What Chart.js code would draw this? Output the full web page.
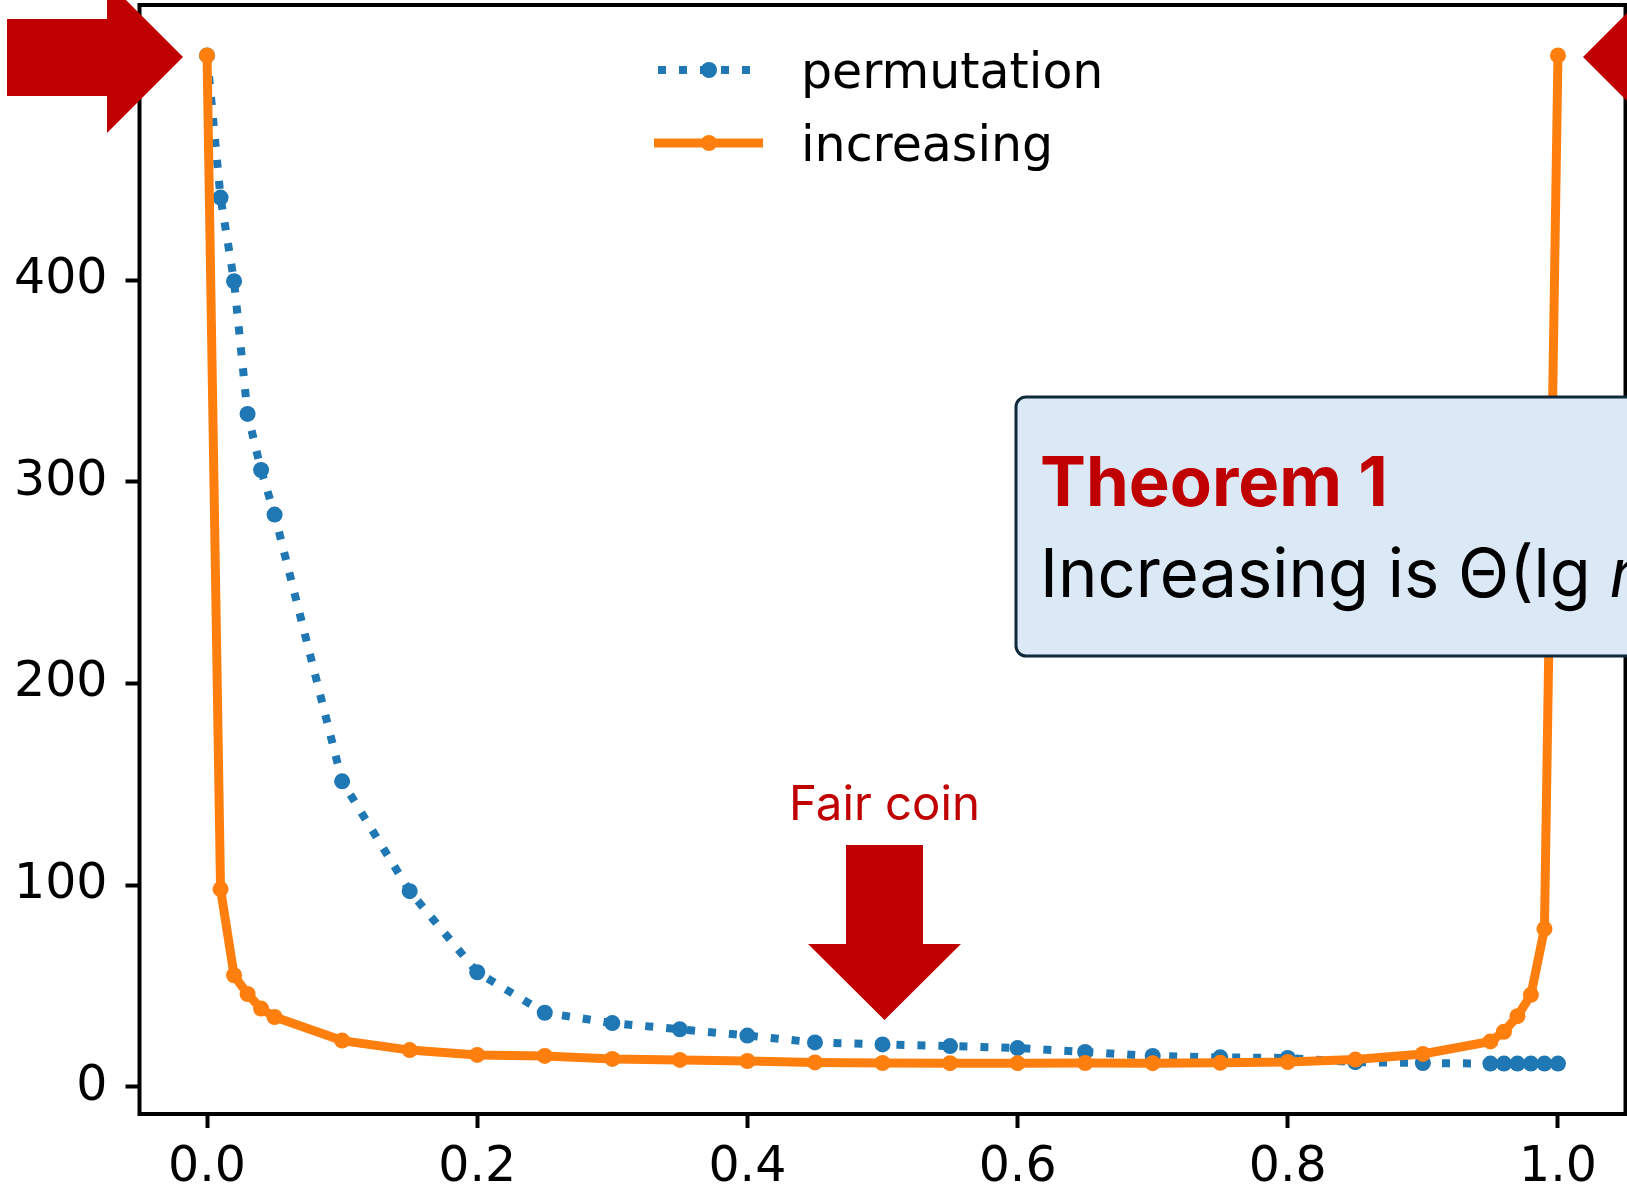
<!DOCTYPE html>
<html>
<head>
<meta charset="utf-8">
<script src="https://cdn.jsdelivr.net/npm/chart.js@4.4.1/dist/chart.umd.min.js"></script>
<style>
  html, body { margin: 0; padding: 0; background: #fff; }
  #wrap { width: 1627px; height: 1189px; overflow: hidden; }
</style>
</head>
<body>
<div id="wrap"><canvas id="grafico" width="1627" height="1189"></canvas></div>
<script>
// datos
const probabilidades = [0, 0.01, 0.02, 0.03, 0.04, 0.05, 0.1, 0.15, 0.2, 0.25, 0.3, 0.35, 0.4, 0.45, 0.5,
  0.55, 0.6, 0.65, 0.7, 0.75, 0.8, 0.85, 0.9, 0.95, 0.96, 0.97, 0.98, 0.99, 1.0];
const permutation = [511.5, 441, 399.5, 333.7, 305.9, 283.8, 151.5, 97, 56.8, 36.7, 31.6, 28.5, 25.4, 22, 21,
  20.2, 19.2, 17.3, 15.3, 14.6, 14.3, 12.2, 11.8, 11.5, 11.5, 11.5, 11.5, 11.5, 11.5];
const increasing = [511.5, 98, 55.3, 46, 38.8, 34.6, 22.9, 18.2, 15.8, 15.3, 13.8, 13.3, 12.8, 12.1, 11.8,
  11.7, 11.7, 11.8, 11.7, 11.9, 12.3, 13.5, 16.3, 22.5, 27.3, 35, 45.6, 78.3, 511.5];
const nombresSeries = ['permutation', 'increasing'];
const ticksX = [0, 0.2, 0.4, 0.6, 0.8, 1.0];
const ticksY = [0, 100, 200, 300, 400, 500];

const AZUL = '#1f77b4';
const NARANJA = '#ff7f0e';
const ROJO = '#c00000';
const fuenteEjes = '"DejaVu Sans", sans-serif';
const fuenteNotas = 'Inter, Lato, sans-serif';

function puntos(valores) {
  return probabilidades.map((x, i) => ({ x: x, y: valores[i] }));
}

// busca el tamaño de letra para que el texto ocupe el ancho pedido
function tamPorAncho(ctx, estilo, texto, ancho) {
  ctx.font = estilo + ' 100px ' + fuenteNotas;
  return 100 * ancho / ctx.measureText(texto).width;
}

// marco completo del eje (estilo matplotlib)
const marco = {
  id: 'marco',
  afterDatasetsDraw(chart) {
    const { ctx, chartArea: a } = chart;
    ctx.save();
    ctx.strokeStyle = '#000';
    ctx.lineWidth = 4;
    ctx.strokeRect(a.left, a.top, a.right - a.left, a.bottom - a.top);
    ctx.restore();
  }
};

// leyenda dibujada a mano: linea + marcador
const leyenda = {
  id: 'leyenda',
  afterDatasetsDraw(chart) {
    const ctx = chart.ctx;
    const filas = [
      { y: 70, x0: 658, x1: 757, color: AZUL, ancho: 8, dash: [8, 13], base: 88 },
      { y: 143, x0: 654, x1: 763, color: NARANJA, ancho: 9, dash: [], base: 161 }
    ];
    ctx.save();
    filas.forEach((f, i) => {
      ctx.strokeStyle = f.color;
      ctx.lineWidth = f.ancho;
      ctx.lineCap = 'butt';
      ctx.setLineDash(f.dash);
      ctx.beginPath();
      ctx.moveTo(f.x0, f.y);
      ctx.lineTo(f.x1, f.y);
      ctx.stroke();
      ctx.setLineDash([]);
      ctx.fillStyle = f.color;
      ctx.beginPath();
      ctx.arc(709, f.y, 8, 0, Math.PI * 2);
      ctx.fill();
      ctx.fillStyle = '#000';
      ctx.font = '49px ' + fuenteEjes;
      ctx.textAlign = 'left';
      ctx.textBaseline = 'alphabetic';
      ctx.fillText(nombresSeries[i], 801, f.base);
    });
    ctx.restore();
  }
};

// flechas rojas, recuadro del teorema y nota "Fair coin"
const notas = {
  id: 'notas',
  afterDraw(chart) {
    const ctx = chart.ctx;
    ctx.save();
    ctx.fillStyle = ROJO;

    // flecha izquierda
    ctx.beginPath();
    ctx.moveTo(7, 19); ctx.lineTo(107, 19); ctx.lineTo(107, -19); ctx.lineTo(183, 57);
    ctx.lineTo(107, 133); ctx.lineTo(107, 96); ctx.lineTo(7, 96);
    ctx.closePath(); ctx.fill();

    // flecha derecha (cortada por el borde)
    ctx.beginPath();
    ctx.moveTo(1583, 57); ctx.lineTo(1659, -19); ctx.lineTo(1659, 19); ctx.lineTo(1760, 19);
    ctx.lineTo(1760, 96); ctx.lineTo(1659, 96); ctx.lineTo(1659, 133);
    ctx.closePath(); ctx.fill();

    // flecha "Fair coin"
    ctx.beginPath();
    ctx.moveTo(846, 845); ctx.lineTo(923, 845); ctx.lineTo(923, 944); ctx.lineTo(961, 944);
    ctx.lineTo(884.5, 1020); ctx.lineTo(808, 944); ctx.lineTo(846, 944);
    ctx.closePath(); ctx.fill();

    ctx.textBaseline = 'alphabetic';
    const tFair = tamPorAncho(ctx, '', 'Fair coin', 191);
    ctx.font = tFair + 'px ' + fuenteNotas;
    ctx.textAlign = 'center';
    ctx.fillText('Fair coin', 884.5, 820);

    // recuadro del teorema
    ctx.beginPath();
    ctx.roundRect(1016, 397, 760, 259, 10);
    ctx.fillStyle = '#dbe8f6';
    ctx.fill();
    ctx.lineWidth = 3;
    ctx.strokeStyle = '#10293a';
    ctx.stroke();

    ctx.textAlign = 'left';
    ctx.fillStyle = ROJO;
    const tTit = tamPorAncho(ctx, 'bold', 'Theorem 1', 348);
    ctx.font = 'bold ' + tTit + 'px ' + fuenteNotas;
    ctx.fillText('Theorem 1', 1040, 506);

    ctx.fillStyle = '#000';
    const texto = 'Increasing is \u0398(lg ';
    const tTxt = tamPorAncho(ctx, '', 'Increasing is \u0398(lg', 551);
    ctx.font = tTxt + 'px ' + fuenteNotas;
    ctx.fillText(texto, 1040, 597);
    const w = ctx.measureText(texto).width;
    ctx.font = 'italic ' + tTxt + 'px ' + fuenteNotas;
    ctx.fillText('n', 1040 + w, 597);
    const wn = ctx.measureText('n').width;
    ctx.font = tTxt + 'px ' + fuenteNotas;
    ctx.fillText(')', 1040 + w + wn, 597);
    ctx.restore();
  }
};

const ctx = document.getElementById('grafico').getContext('2d');
window.grafico = new Chart(ctx, {
  type: 'line',
  data: {
    datasets: [{
      label: nombresSeries[0],
      data: puntos(permutation),
      borderColor: AZUL,
      backgroundColor: AZUL,
      borderWidth: 8,
      borderDash: [8, 13],
      borderCapStyle: 'butt',
      pointRadius: 8,
      pointBorderWidth: 0,
      pointBackgroundColor: AZUL,
      tension: 0,
      order: 2
    }, {
      label: nombresSeries[1],
      data: puntos(increasing),
      borderColor: NARANJA,
      backgroundColor: NARANJA,
      borderWidth: 9,
      pointRadius: 8,
      pointBorderWidth: 0,
      pointBackgroundColor: NARANJA,
      tension: 0,
      order: 1
    }]
  },
  options: {
    responsive: false,
    devicePixelRatio: 1,
    animation: false,
    layout: { autoPadding: false, padding: { top: 5, right: 1.5, left: 0, bottom: 0 } },
    plugins: {
      legend: { display: false },
      tooltip: { enabled: false }
    },
    scales: {
      x: {
        type: 'linear',
        min: -0.05,
        max: 1.05,
        afterBuildTicks: s => { s.ticks = ticksX.map(v => ({ value: v })); },
        afterFit: s => { s.height = 75; s.paddingLeft = 0; s.paddingRight = 0; },
        border: { display: false },
        grid: { drawOnChartArea: false, drawTicks: true, tickLength: 14, tickWidth: 4, tickColor: '#000' },
        ticks: {
          color: '#000',
          font: { family: fuenteEjes, size: 49 },
          padding: 11,
          maxRotation: 0,
          autoSkip: false,
          callback: v => Number(v).toFixed(1)
        }
      },
      y: {
        type: 'linear',
        min: -13.5,
        max: 536.5,
        afterBuildTicks: s => { s.ticks = ticksY.map(v => ({ value: v })); },
        afterFit: s => { s.width = 139.5; s.paddingTop = 0; s.paddingBottom = 0; },
        border: { display: false },
        grid: { drawOnChartArea: false, drawTicks: true, tickLength: 14, tickWidth: 4, tickColor: '#000' },
        ticks: {
          color: '#000',
          font: { family: fuenteEjes, size: 49 },
          padding: 18,
          autoSkip: false,
          callback: v => String(v)
        }
      }
    }
  },
  plugins: [marco, leyenda, notas]
});
</script>
</body>
</html>
